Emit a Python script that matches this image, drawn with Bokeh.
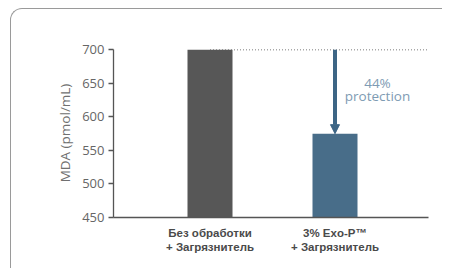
from bokeh.plotting import figure
from bokeh.models import (ColumnDataSource, FixedTicker, Arrow, NormalHead,
                          InlineStyleSheet)
from bokeh.core.properties import value
from bokeh.embed import file_html
from bokeh.resources import INLINE

# ---- data ----
categories = ["Без обработки\n+ Загрязнитель", "3% Exo-P™\n+ Загрязнитель"]
mda_values = [700, 575]
bar_colors = ["#575757", "#486d89"]
y_ticks = [450, 500, 550, 600, 650, 700]
protection_label = "44%\nprotection"

x_idx = list(range(len(categories)))
src = ColumnDataSource(dict(x=x_idx, top=mda_values, color=bar_colors))

X_END = 1.748

panel_css = InlineStyleSheet(css="""
:host::after {
  content: "";
  position: absolute;
  left: 10px; top: 8px; width: 431px; height: 259px;
  border-left: 1.5px solid #9a9a9a;
  border-top: 1.5px solid #9a9a9a;
  border-right: 0px solid transparent;
  border-bottom: 0px solid transparent;
  border-radius: 12px 0 0 0;
  pointer-events: none;
}
""")

p = figure(width=441, height=267, output_backend="svg", toolbar_location=None,
           x_range=(-0.772, X_END), y_range=(450, 702),
           min_border_left=113, min_border_right=13,
           min_border_top=48, min_border_bottom=50,
           stylesheets=[panel_css])
p.outline_line_color = None
p.xgrid.visible = False
p.ygrid.visible = False
p.background_fill_color = "white"
p.border_fill_color = "white"

# dotted reference line at untreated level
p.segment(x0=[x_idx[0]], y0=[mda_values[0]], x1=[X_END], y1=[mda_values[0]],
          line_color="#a8a8a8", line_width=1.5, line_dash="1 2")

p.vbar(x="x", top="top", bottom=450, width=0.36, color="color",
       line_color=None, source=src)

# arrow
p.add_layout(Arrow(end=NormalHead(size=9, fill_color="#3d6585",
                                  line_color="#3d6585"),
                   x_start=x_idx[1], y_start=mda_values[0],
                   x_end=x_idx[1], y_end=mda_values[1],
                   line_color="#3d6585", line_width=4))

p.text(x=[1.34], y=[641.5], text=[protection_label], text_align="center",
       text_baseline="middle", text_color="#7e9bb3",
       text_font=value("Open Sans"), text_font_size="13.5px",
       text_line_height=0.72)

# axes
p.yaxis.ticker = FixedTicker(ticks=y_ticks)
p.yaxis.bounds = (450, 700)
p.yaxis.axis_label = "MDA (pmol/mL)"
p.yaxis.axis_label_text_font = "Open Sans"
p.yaxis.axis_label_text_font_style = "normal"
p.yaxis.axis_label_text_font_size = "13.5px"
p.yaxis.axis_label_text_color = "#707070"
p.yaxis.axis_label_standoff = 5
p.yaxis.major_label_text_font = "Open Sans"
p.yaxis.major_label_text_font_size = "13px"
p.yaxis.major_label_text_color = "#666666"
p.yaxis.major_label_standoff = 4
p.yaxis.major_tick_out = 5
p.yaxis.major_tick_in = 0
p.yaxis.minor_tick_line_color = None
p.yaxis.axis_line_color = "#555555"
p.yaxis.major_tick_line_color = "#555555"
p.yaxis.axis_line_width = 1.3
p.yaxis.major_tick_line_width = 1.3

p.xaxis.ticker = FixedTicker(ticks=x_idx)
p.xaxis.major_label_overrides = {i: c for i, c in zip(x_idx, categories)}
p.xaxis.major_label_text_font = "Liberation Sans"
p.xaxis.major_label_text_font_style = "bold"
p.xaxis.major_label_text_font_size = "11.5px"
p.xaxis.major_label_text_color = "#4a4a4a"
p.xaxis.major_label_standoff = 3
p.xaxis.major_tick_line_color = None
p.xaxis.minor_tick_line_color = None
p.xaxis.axis_line_color = "#555555"
p.xaxis.axis_line_width = 1.3

open("out.html", "w").write(file_html(p, INLINE))
